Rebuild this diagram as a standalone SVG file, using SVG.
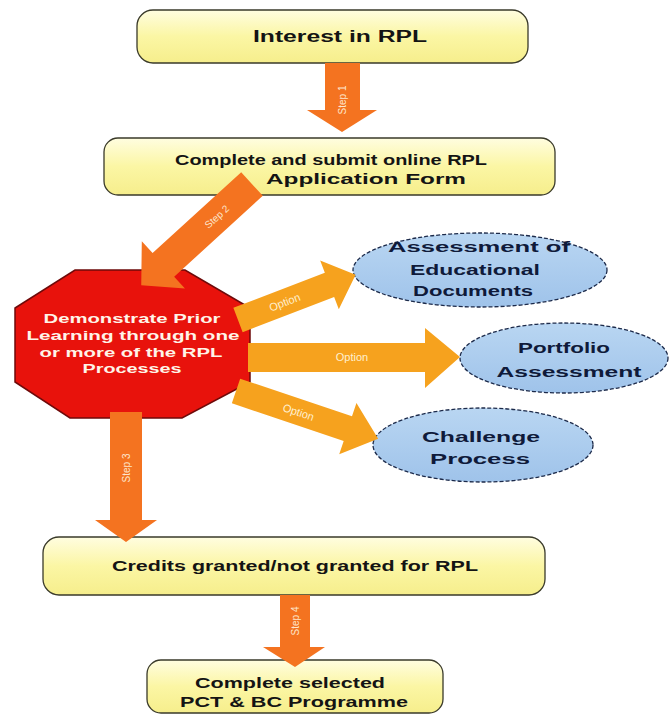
<svg xmlns="http://www.w3.org/2000/svg" width="670" height="715" viewBox="0 0 670 715">
  <defs>
    <linearGradient id="boxFill" x1="0" y1="0" x2="0" y2="1">
      <stop offset="0" stop-color="#fffde0"/>
      <stop offset="0.5" stop-color="#fbf6a4"/>
      <stop offset="1" stop-color="#f6ee8c"/>
    </linearGradient>
    <linearGradient id="ovalFill" x1="0" y1="0" x2="0" y2="1">
      <stop offset="0" stop-color="#b9d6f2"/>
      <stop offset="1" stop-color="#9fc3ea"/>
    </linearGradient>
    <style>
      .box { fill: url(#boxFill); stroke: #3a3a2a; stroke-width: 1.3; }
      .oval { fill: url(#ovalFill); stroke: #1c2a4a; stroke-width: 1.3; stroke-dasharray: 4 2; }
      .step { fill: #f47320; }
      .opt { fill: #f6a21e; }
      .t { font-family: "Liberation Sans", Arial, sans-serif; font-weight: bold; fill: #141414; text-anchor: middle; }
      .to { font-family: "Liberation Sans", Arial, sans-serif; font-weight: bold; fill: #0f1a3a; text-anchor: middle; font-size: 14px; }
      .tw { font-family: "Liberation Sans", Arial, sans-serif; font-weight: bold; fill: #fff4e8; text-anchor: middle; font-size: 12.5px; }
      .lbl { font-family: "Liberation Sans", Arial, sans-serif; fill: #fde6cc; text-anchor: middle; font-size: 10px; }
      .lblo { font-family: "Liberation Sans", Arial, sans-serif; fill: #fff0d0; text-anchor: middle; font-size: 11px; }
    </style>
  </defs>

  <rect width="670" height="715" fill="#ffffff"/>

  <!-- process boxes -->
  <g id="interest">
    <rect class="box" x="137" y="10" width="391" height="53" rx="16"/>
    <text class="t" x="340" y="42" font-size="16" textLength="174" lengthAdjust="spacingAndGlyphs">Interest in RPL</text>
  </g>

  <g id="application">
    <rect class="box" x="104" y="138" width="451" height="57" rx="14"/>
    <text class="t" x="331" y="165" font-size="15" textLength="312" lengthAdjust="spacingAndGlyphs">Complete and submit online RPL</text>
    <text class="t" x="366" y="184" font-size="15" textLength="200" lengthAdjust="spacingAndGlyphs">Application Form</text>
  </g>

  <g id="demonstrate">
    <polygon points="75,270 185,270 250,308 250,382 182,418 70,418 15,382 15,308" fill="#e8120c" stroke="#6e0a0a" stroke-width="1.5"/>
    <text class="tw" x="132" y="323" textLength="177" lengthAdjust="spacingAndGlyphs">Demonstrate Prior</text>
    <text class="tw" x="133" y="340" textLength="213" lengthAdjust="spacingAndGlyphs">Learning through one</text>
    <text class="tw" x="131" y="357" textLength="183" lengthAdjust="spacingAndGlyphs">or more of the RPL</text>
    <text class="tw" x="132" y="373" textLength="99" lengthAdjust="spacingAndGlyphs">Processes</text>
  </g>

  <g id="educational">
    <ellipse class="oval" cx="480" cy="270" rx="127" ry="37"/>
    <text class="to" x="479" y="252" textLength="182" lengthAdjust="spacingAndGlyphs">Assessment of</text>
    <text class="to" x="475" y="275" textLength="130" lengthAdjust="spacingAndGlyphs">Educational</text>
    <text class="to" x="473" y="296" textLength="120" lengthAdjust="spacingAndGlyphs">Documents</text>
  </g>

  <g id="portfolio">
    <ellipse class="oval" cx="564" cy="358" rx="104" ry="35"/>
    <text class="to" x="564" y="353" textLength="92" lengthAdjust="spacingAndGlyphs">Portfolio</text>
    <text class="to" x="569" y="377" textLength="145" lengthAdjust="spacingAndGlyphs">Assessment</text>
  </g>

  <g id="challenge">
    <ellipse class="oval" cx="483" cy="445" rx="110" ry="37"/>
    <text class="to" x="481" y="442" textLength="118" lengthAdjust="spacingAndGlyphs">Challenge</text>
    <text class="to" x="480" y="464" textLength="100" lengthAdjust="spacingAndGlyphs">Process</text>
  </g>

  <g id="credits">
    <rect class="box" x="43" y="537" width="502" height="58" rx="16"/>
    <text class="t" x="295" y="571" font-size="15" textLength="366" lengthAdjust="spacingAndGlyphs">Credits granted/not granted for RPL</text>
  </g>

  <g id="programme">
    <rect class="box" x="147" y="660" width="296" height="53" rx="14"/>
    <text class="t" x="290" y="688" font-size="15" textLength="190" lengthAdjust="spacingAndGlyphs">Complete selected</text>
    <text class="t" x="294" y="707" font-size="15" textLength="228" lengthAdjust="spacingAndGlyphs">PCT &amp; BC Programme</text>
  </g>

  <!-- block arrows -->
  <g id="connectors">
    <!-- Step 1 -->
    <polygon class="step" points="325,63 360,63 360,110 377,110 342,132 307,110 325,110"/>
    <text class="lbl" transform="translate(346,100) rotate(-90)">Step 1</text>

    <!-- Step 2 (diagonal) -->
    <g transform="translate(252,184) rotate(137.6)">
      <polygon class="step" points="0,-16 120,-16 120,-32 150,0 120,32 120,16 0,16"/>
      <text class="lbl" x="48" y="4" transform="rotate(180 48 0)">Step 2</text>
    </g>

    <!-- Step 3 -->
    <polygon class="step" points="110,412 142,412 142,520 157,520 126,542 95,520 110,520"/>
    <text class="lbl" transform="translate(130,468) rotate(-90)">Step 3</text>

    <!-- Step 4 -->
    <polygon class="step" points="280,595 310,595 310,647 325,647 295,667 263,647 280,647"/>
    <text class="lbl" transform="translate(299,621) rotate(-90)">Step 4</text>

    <!-- Option to educational documents -->
    <g transform="translate(238,320) rotate(-21)">
      <polygon class="opt" points="0,-13 98,-13 98,-26 126,0 98,26 98,13 0,13"/>
      <text class="lblo" x="50" y="4">Option</text>
    </g>

    <!-- Option to portfolio -->
    <polygon class="opt" points="248,343 425,343 425,328 460,357 425,388 425,372 248,372"/>
    <text class="lblo" x="352" y="361">Option</text>

    <!-- Option to challenge process -->
    <g transform="translate(236,391) rotate(18.6)">
      <polygon class="opt" points="0,-13 118,-13 118,-27 150,0 118,27 118,13 0,13"/>
      <text class="lblo" x="66" y="4">Option</text>
    </g>
  </g>
</svg>
